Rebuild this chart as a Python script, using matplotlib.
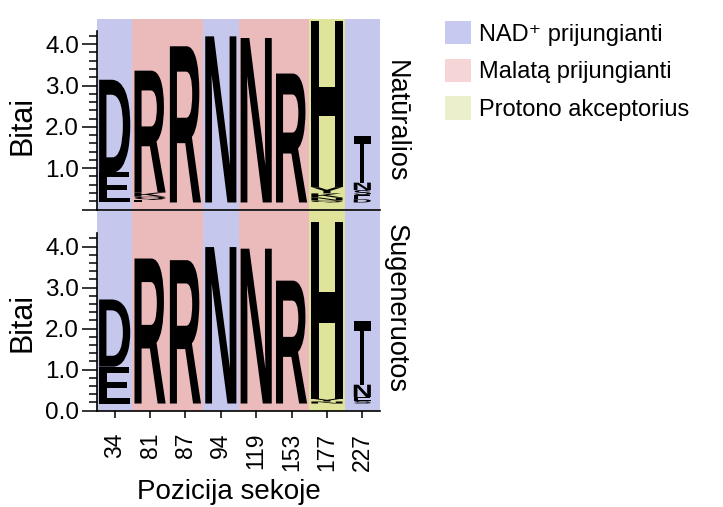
import numpy as np
import matplotlib
matplotlib.use('Agg')
import matplotlib.pyplot as plt
from matplotlib.textpath import TextPath
from matplotlib.patches import PathPatch, Patch
from matplotlib.font_manager import FontProperties
from matplotlib.transforms import Affine2D
from matplotlib.ticker import FixedLocator

plt.rcParams['font.family'] = ['Liberation Sans', 'DejaVu Sans']

# sequence positions and the role of each site
positions = ['34', '81', '87', '94', '119', '153', '177', '227']
roles = ['nad', 'malate', 'malate', 'nad', 'malate', 'malate', 'proton', 'nad']
stack_width = [1, 1, 1, 1, 1, 1, 1, 0.55]   # relative occupancy of the column

# letters from bottom to top of each stack, heights in bits
natural_letters = [['E', 'D'], ['E', 'Q', 'K', 'R'], ['R'], ['N'], ['N'], ['R'],
                   ['Q', 'N', 'K', 'Y', 'H'], ['D', 'E', 'S', 'N', 'T']]
natural_bits = [[0.73, 2.24], [0.06, 0.08, 0.10, 2.95], [3.78], [4.02], [3.98], [3.12],
                [0.05, 0.07, 0.10, 0.15, 4.02], [0.08, 0.10, 0.12, 0.18, 1.12]]

generated_letters = [['E', 'D'], ['R'], ['R'], ['N'], ['N'], ['R'],
                     ['N', 'Y', 'H'], ['S', 'E', 'N', 'T']]
generated_bits = [[0.90, 1.64], [3.54], [3.50], [3.82], [3.78], [3.00],
                  [0.05, 0.07, 4.31], [0.06, 0.10, 0.30, 1.55]]

role_labels = {'nad': 'NAD⁺ prijungianti',
               'malate': 'Malatą prijungianti',
               'proton': 'Protono akceptorius'}
bg_colors = {'nad': '#c5c7ed', 'malate': '#ebbaba', 'proton': '#e0e49a'}
legend_colors = {'nad': '#c7c9f0', 'malate': '#f5d5d5', 'proton': '#ebefcb'}

letter_font = FontProperties(family='Liberation Sans', weight='bold')
base = 0.17   # stacks start a little above zero

def draw_letter(ax, ch, xc, y0, w, h):
    tp = TextPath((0, 0), ch, size=1, prop=letter_font)
    bb = tp.get_extents()
    tr = (Affine2D().translate(-bb.x0, -bb.y0)
          .scale(w / bb.width, h / bb.height)
          .translate(xc - w / 2, y0))
    ax.add_patch(PathPatch(tr.transform_path(tp), fc='black', lw=0, zorder=2))

def draw_logo(ax, letters, bits, ytop, row_label, label_y):
    for i, role in enumerate(roles):
        ax.axvspan(i - 0.5, i + 0.5, color=bg_colors[role], lw=0, zorder=0)
    for i, (lets, hs) in enumerate(zip(letters, bits)):
        y = base
        for ch, h in zip(lets, hs):
            draw_letter(ax, ch, i, y, 0.88 * stack_width[i], h)
            y += h
    ax.set_xlim(-0.5, len(positions) - 0.5)
    ax.set_ylim(0, ytop)
    for s in ['top', 'right']:
        ax.spines[s].set_visible(False)
    ax.spines['left'].set_bounds(0, np.log2(20))
    ax.spines['left'].set_linewidth(1.2)
    ax.spines['bottom'].set_linewidth(1.2)
    ax.yaxis.set_major_locator(FixedLocator([0, 1, 2, 3, 4]))
    ax.yaxis.set_minor_locator(FixedLocator(np.arange(0, 4.3, 0.2)))
    ax.tick_params(axis='y', which='major', length=11, width=1.1, pad=2, labelsize=17.5)
    ax.tick_params(axis='y', which='minor', length=5.5, width=1.1)
    ax.set_ylabel('Bitai', fontsize=22)
    ax.yaxis.set_label_coords(-0.21, 0.44)
    ax.text(1.055, label_y, row_label, rotation=-90, ha='center', va='center',
            fontsize=19.5, transform=ax.transAxes)

fig = plt.figure(figsize=(7.23, 5.07), dpi=100)
W, H = 723, 507
ax1 = fig.add_axes([97 / W, (H - 209.5) / H, 283 / W, 190.5 / H])
ax2 = fig.add_axes([97 / W, (H - 410.5) / H, 283 / W, 199.5 / H])

draw_logo(ax1, natural_letters, natural_bits, 4.61, 'Natūralios', 0.465)
draw_logo(ax2, generated_letters, generated_bits, 4.87, 'Sugeneruotos', 0.51)

ax1.set_xticks([])
ax1.set_yticklabels(['', '1.0', '2.0', '3.0', '4.0'])
ax2.set_yticklabels(['0.0', '1.0', '2.0', '3.0', '4.0'])
ax2.set_xticks(range(len(positions)))
ax2.set_xticklabels(positions, rotation=90)
ax2.tick_params(axis='x', length=5, width=1.1, pad=11, labelsize=16.5)
ax2.set_xlabel('Pozicija sekoje', fontsize=20)
ax2.xaxis.set_label_coords(0.466, -0.345)

handles = [Patch(facecolor=legend_colors[r], edgecolor='none') for r in ['nad', 'malate', 'proton']]
fig.legend(handles, [role_labels[r] for r in ['nad', 'malate', 'proton']],
           loc='upper left', bbox_to_anchor=(445 / W, 1 - 21 / H), frameon=False,
           fontsize=17, handlelength=1.1, handleheight=1.14, handletextpad=0.35,
           labelspacing=0.55, borderpad=0, borderaxespad=0)

fig.savefig('out.png', dpi=100)
